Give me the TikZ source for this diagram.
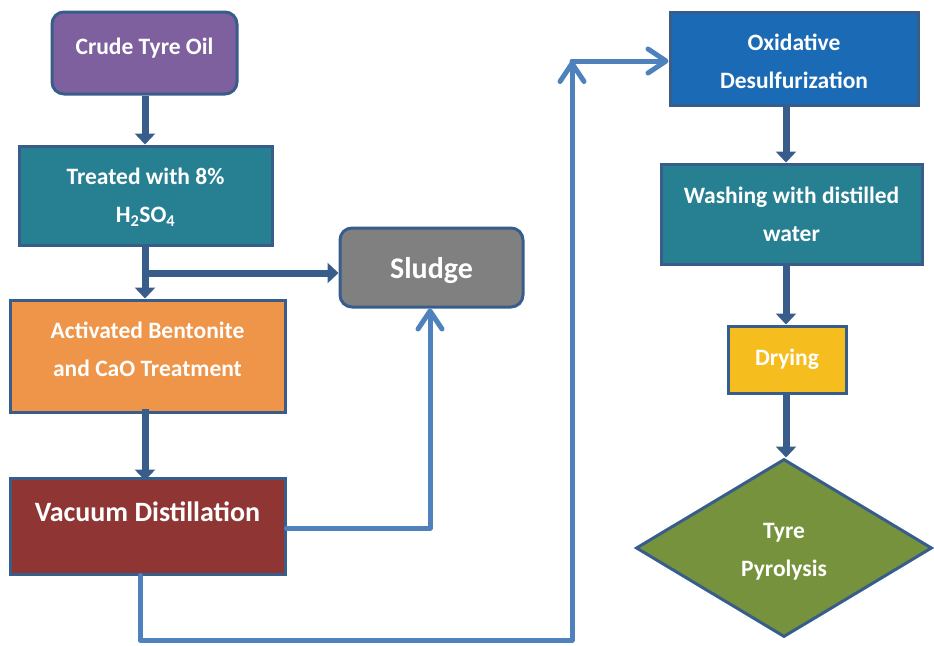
\documentclass[tikz,border=0pt]{standalone}
\usepackage{fontspec}
\setmainfont{Carlito}
\usetikzlibrary{arrows.meta,shapes.geometric}
\definecolor{bord}{RGB}{56,93,138}
\definecolor{cpurple}{RGB}{125,96,157}
\definecolor{cteal}{RGB}{38,128,146}
\definecolor{cgray}{RGB}{128,128,128}
\definecolor{corange}{RGB}{238,149,73}
\definecolor{cmaroon}{RGB}{143,54,52}
\definecolor{cblue}{RGB}{26,106,181}
\definecolor{cyellow}{RGB}{245,190,30}
\definecolor{cgreen}{RGB}{118,146,60}
\definecolor{clight}{RGB}{79,129,189}
\newcommand{\mvup}[2]{\raisebox{#1}[\height][\depth]{#2}}
\tikzset{
  box/.style={draw=bord, line width=3pt, text=white, align=center, inner sep=0pt,
    font=\bfseries\fontsize{23.5}{38}\selectfont},
  fat/.style={draw=bord, line width=7pt, -{Triangle[width=20pt,length=11pt]}},
  thin/.style={draw=clight, line width=5pt, line cap=round, line join=round},
  thinarr/.style={thin, -{Straight Barb[width=24pt,length=18pt,line width=5pt,round]}},
}
\begin{document}
\begin{tikzpicture}[x=1pt,y=-1pt]
\useasboundingbox (0,0) rectangle (934,645);
\node[box, fill=cpurple, rounded corners=12pt, minimum width=185pt, minimum height=82pt] (crude) at (144.5,53) {\mvup{5pt}{Crude Tyre Oil}};
\node[box, fill=cteal, minimum width=253pt, minimum height=99pt] (treated) at (145.5,195.5) {\mvup{-2pt}{Treated with 8\%}\\\mvup{-2pt}{H\textsubscript{2}SO\textsubscript{4}}};
\node[box, fill=cgray, rounded corners=12pt, minimum width=183pt, minimum height=79pt, font=\bfseries\fontsize{30}{34}\selectfont] (sludge) at (431.5,267.5) {\mvup{-3pt}{Sludge}};
\node[box, fill=corange, minimum width=275pt, minimum height=112pt] (act) at (147.5,356) {\mvup{7pt}{Activated Bentonite}\\\mvup{7pt}{and CaO Treatment}};
\node[box, fill=cmaroon, minimum width=275pt, minimum height=96pt, font=\bfseries\fontsize{28}{30}\selectfont] (vac) at (147.5,526) {\mvup{-5pt}{Vacuum Distillation}\\\strut};
\node[box, fill=cblue, minimum width=248pt, minimum height=93pt] (oxid) at (794,58.5) {\mvup{-3pt}{Oxidative}\\\mvup{-3pt}{Desulfurization}};
\node[box, fill=cteal, minimum width=261pt, minimum height=100pt] (wash) at (791.5,214) {Washing with distilled\\water};
\node[box, fill=cyellow, minimum width=118pt, minimum height=67pt] (dry) at (787,359.5) {Drying};
\node[box, fill=cgreen, diamond, aspect=1.6, minimum width=296pt, minimum height=178pt] (pyro) at (784,548) {\mvup{-4pt}{Tyre}\\\mvup{-4pt}{Pyrolysis}};

% thick arrows, left column
\draw[fat] (crude.south -| 145,0) -- (treated.north -| 145,0);
\coordinate (br) at (145,273);
\draw[fat] (treated.south -| 145,0) -- (act.north -| 145,0);
\draw[fat] (br) -- (br -| sludge.west);
\draw[fat] ([yshift=5pt]act.south -| 145,0) -- ([yshift=-4pt]vac.north -| 145,0);
% thick arrows, right column
\draw[fat] (oxid.south -| 786,0) -- (wash.north -| 786,0);
\draw[fat] (wash.south -| 786,0) -- (dry.north -| 786,0);
\draw[fat] (dry.south -| 786,0) -- (pyro.north -| 786,0);

% light connectors
\coordinate (v1) at (430,528);
\draw[thinarr] (vac.east |- v1) -- (v1) -- (v1 |- sludge.south);
\coordinate (c1) at (140,640);
\coordinate (c2) at (572,640);
\coordinate (c3) at (572,61);
\draw[thinarr] (vac.south -| c1) -- (c1) -- (c2) -- (c3);
\draw[thinarr] (c3) -- (c3 -| oxid.west);
\end{tikzpicture}
\end{document}
